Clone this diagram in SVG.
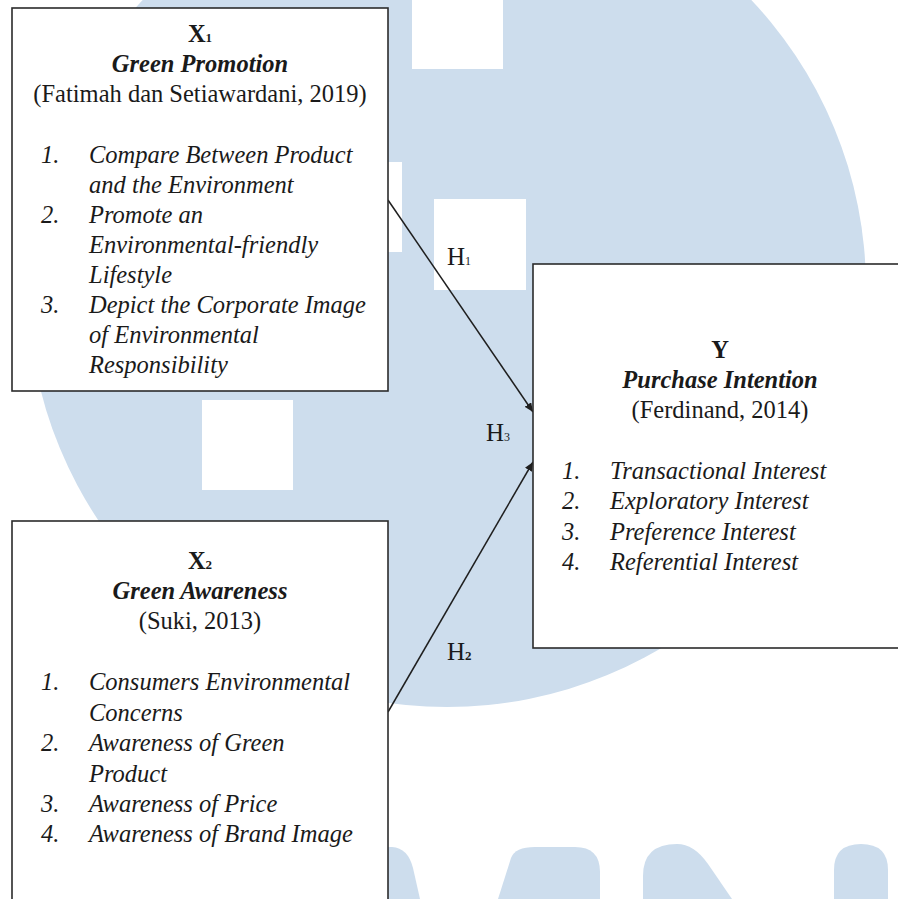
<svg xmlns="http://www.w3.org/2000/svg" width="898" height="899" viewBox="0 0 898 899">
<style>
.bg{fill:#cddded}
.hole{fill:#ffffff}
.box{fill:#ffffff;stroke:#2b2b2b;stroke-width:1.6}
.t{font-family:"Liberation Serif","Times New Roman",serif;font-size:24.5px;fill:#1a1a1a}
.c{text-anchor:middle}
.b{font-weight:bold}
.i{font-style:italic}
.bi{font-weight:bold;font-style:italic}
.sub{font-size:13px}
.conn{stroke:#1f1f1f;stroke-width:1.5;fill:none}
.h{font-family:"Liberation Serif","Times New Roman",serif;font-size:25px;fill:#1a1a1a}
</style>
<defs>
<marker id="arr" markerUnits="userSpaceOnUse" markerWidth="10" markerHeight="8" refX="9" refY="4" orient="auto">
<path d="M0,0 L9,4 L0,8 z" fill="#1f1f1f"/>
</marker>
</defs>
<g id="background">
<circle class="bg" cx="447" cy="288" r="419"/>
<rect class="hole" x="412" y="0" width="91" height="69"/>
<rect class="hole" x="312" y="162" width="90" height="90"/>
<rect class="hole" x="434" y="199" width="92" height="91"/>
<rect class="hole" x="202" y="400" width="91" height="90"/>
<path class="bg" d="M380,847 L392,847 Q408,848 413,868 L420,899 L380,899 Z"/>
<path class="bg" d="M498,899 L511,858 Q515,847 535,847 L575,847 Q600,847 600,872 L600,899 Z"/>
<path class="bg" d="M643,899 L643,876 Q643,844 677,844 Q694,844 708,864 L732,899 Z"/>
<path class="bg" d="M834,899 L834,870 Q834,844 861,844 Q888,844 888,870 L888,899 Z"/>
</g>
<g id="connectors">
<line class="conn" x1="388" y1="200" x2="533" y2="412" marker-end="url(#arr)"/>
<line class="conn" x1="388" y1="712" x2="533" y2="462" marker-end="url(#arr)"/>
<text class="h" x="447" y="265">H<tspan font-size="12">1</tspan></text>
<text class="h" x="486" y="441">H<tspan font-size="12">3</tspan></text>
<text class="h" x="447" y="660">H<tspan font-size="13" font-weight="bold">2</tspan></text>
</g>
<g id="x1">
<rect class="box" x="12" y="8" width="376" height="383"/>
<text class="t c b" x="200" y="42" font-size="22">X<tspan class="sub">1</tspan></text>
<text class="t c bi" x="200" y="72">Green Promotion</text>
<text class="t c" x="200" y="102">(Fatimah dan Setiawardani, 2019)</text>
<text class="t i" x="41" y="163">1.</text>
<text class="t i" x="89" y="163">Compare Between Product</text>
<text class="t i" x="89" y="193">and the Environment</text>
<text class="t i" x="41" y="223">2.</text>
<text class="t i" x="89" y="223">Promote an</text>
<text class="t i" x="89" y="253">Environmental-friendly</text>
<text class="t i" x="89" y="283">Lifestyle</text>
<text class="t i" x="41" y="313">3.</text>
<text class="t i" x="89" y="313">Depict the Corporate Image</text>
<text class="t i" x="89" y="343">of Environmental</text>
<text class="t i" x="89" y="373">Responsibility</text>
</g>
<g id="x2">
<rect class="box" x="12" y="521" width="376" height="400"/>
<text class="t c b" x="200" y="569" font-size="22">X<tspan class="sub">2</tspan></text>
<text class="t c bi" x="200" y="599">Green Awareness</text>
<text class="t c" x="200" y="629">(Suki, 2013)</text>
<text class="t i" x="41" y="690">1.</text>
<text class="t i" x="89" y="690">Consumers Environmental</text>
<text class="t i" x="89" y="721">Concerns</text>
<text class="t i" x="41" y="751">2.</text>
<text class="t i" x="89" y="751">Awareness of Green</text>
<text class="t i" x="89" y="782">Product</text>
<text class="t i" x="41" y="812">3.</text>
<text class="t i" x="89" y="812">Awareness of Price</text>
<text class="t i" x="41" y="842">4.</text>
<text class="t i" x="89" y="842">Awareness of Brand Image</text>
</g>
<g id="y">
<rect class="box" x="533" y="264" width="400" height="384"/>
<text class="t c b" x="720" y="358">Y</text>
<text class="t c bi" x="720" y="388">Purchase Intention</text>
<text class="t c" x="720" y="418">(Ferdinand, 2014)</text>
<text class="t i" x="562" y="479">1.</text>
<text class="t i" x="610" y="479">Transactional Interest</text>
<text class="t i" x="562" y="509">2.</text>
<text class="t i" x="610" y="509">Exploratory Interest</text>
<text class="t i" x="562" y="540">3.</text>
<text class="t i" x="610" y="540">Preference Interest</text>
<text class="t i" x="562" y="570">4.</text>
<text class="t i" x="610" y="570">Referential Interest</text>
</g>
</svg>
